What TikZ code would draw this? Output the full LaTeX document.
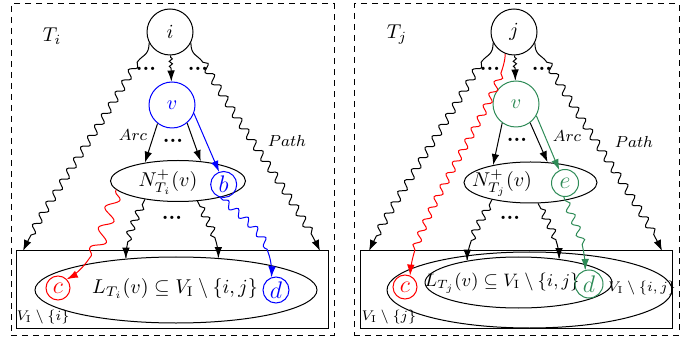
\documentclass[tikz,border=0pt]{standalone}
\usepackage{amsmath}
\usetikzlibrary{shapes.geometric,decorations.pathmorphing,arrows.meta}
\definecolor{sgreen}{RGB}{46,139,87}
\begin{document}
\begin{tikzpicture}[x=0.5pt,y=-0.5pt,line width=0.5pt,
  tip/.style={-{Latex[length=5.5pt,width=3.8pt]}},
  bigc/.style={circle,draw,minimum size=23pt,inner sep=0pt,font=\normalsize},
  smallc/.style={circle,draw,inner sep=0pt,font=\large},
  ell/.style={ellipse,draw,inner sep=0pt},
  lbl/.style={inner sep=0pt},
  dotsn/.style={inner sep=0pt,font=\fontsize{10.5}{12}\selectfont\bfseries},
  smalllbl/.style={inner sep=0pt,font=\footnotesize},
  tinylbl/.style={inner sep=0pt,font=\scriptsize},
  outerbox/.style={draw,dashed,dash pattern=on 3pt off 2.5pt,inner sep=0pt},
  innerbox/.style={draw,inner sep=0pt},
  wv/.style={decorate,decoration={snake,pre=curveto,post=curveto,#1}},
  smallwave/.style={wv={amplitude=0.8pt,segment length=2.5pt,pre length=1pt,post length=6pt}},
  bigwave/.style={wv={amplitude=1.8pt,segment length=6.5pt,pre length=12pt,post length=7pt}},
  redwaveR/.style={wv={amplitude=1.7pt,segment length=6.5pt,pre length=10pt,post length=13pt}},
  medwave/.style={wv={amplitude=1.7pt,segment length=5.5pt,pre length=3pt,post length=8pt}},
  redwave/.style={wv={amplitude=3.2pt,segment length=11pt,pre length=1pt,post length=15pt}},
  bluewave/.style={wv={amplitude=1.7pt,segment length=6.5pt,pre length=2pt,post length=11pt}},
]
\useasboundingbox (0,0) rectangle (694,341);

% ---------------- left panel ----------------
\node[outerbox,minimum width=161.5pt,minimum height=165.5pt] (outerL) at (172.5,169.5) {};
\node[innerbox,minimum width=156pt,minimum height=38.5pt] (boxL) at (172,289.5) {};
\node[ell,minimum width=141pt,minimum height=33pt] (L1) at (176,290) {};
\node[lbl] (L1lbl) at (175,288) {$L_{T_i}(v) \subseteq V_{\mathrm{I}} \setminus \{i,j\}$};
\node[tinylbl] (VIi) at (43,317) {$V_{\mathrm{I}} \setminus \{i\}$};

\node[lbl] (Ti) at (52,36) {$T_i$};
\node[bigc] (i) at (170,32) {$i$};
\node[bigc,blue] (v) at (172,105) {$v$};
\node[ell,minimum width=67.5pt,minimum height=20.5pt] (N1) at (178,181) {};
\node[lbl] (N1lbl) at (168,182) {$N^{+}_{T_i}(v)$};
\node[smallc,blue,minimum size=13pt] (b) at (223.7,184.5) {$b$};
\node[smallc,red,minimum size=12pt] (c1) at (58,288) {$c$};
\node[smallc,blue,minimum size=13pt] (d1) at (276,290) {$d$};

\node[dotsn] (dl1) at (146,69) {...};
\node[dotsn] (dl2) at (198,69) {...};
\node[dotsn] (dl3) at (173,141) {...};
\node[dotsn] (dl4) at (172,218) {...};
\node[smalllbl] (arcL) at (133,135) {$Arc$};
\node[smalllbl] (pathL) at (287,141) {$Path$};

\coordinate (bL1) at (136,64);
\coordinate (bL2) at (204,64);
\coordinate (tL1) at (23,251);
\coordinate (tL2) at (320,251);

\draw[tip,smallwave] (i) -- (v);
\draw[tip,bigwave] (i.207) .. controls +(0,14) and +(6,-10) .. (bL1)
   .. controls +(-35,62) and +(18,-40) .. (tL1);
\draw[tip,bigwave] (i.333) .. controls +(0,14) and +(-6,-10) .. (bL2)
   .. controls +(35,62) and +(-18,-40) .. (tL2);
\draw[tip] (v.232) -- (N1.151);
\draw[tip] (v.310) -- (N1.41);
\draw[tip,blue] (v.339) -- (b.110);
\draw[tip,medwave] (N1.209) .. controls +(-10,20) and +(0,-20) .. (L1.148);
\draw[tip,medwave] (N1.314) .. controls +(10,20) and +(0,-20) .. (L1.37);
\draw[tip,red,redwave] (N1.188) .. controls +(-10,40) and +(25,-12) .. (c1.45);
\draw[tip,blue,bluewave] (b.255) .. controls +(20,18) and +(3,-40) .. (d1.110);

% ---------------- right panel ----------------
\node[outerbox,minimum width=162.5pt,minimum height=165.5pt] (outerR) at (516.5,169.5) {};
\node[innerbox,minimum width=156pt,minimum height=38.5pt] (boxR) at (516,289.5) {};
\node[ell,minimum width=142.5pt,minimum height=38pt] (O2) at (529.5,290) {};
\node[ell,minimum width=93.5pt,minimum height=25.5pt] (L2) at (518.5,282.5) {};
\node[lbl,font=\small] (L2lbl) at (502,283) {$L_{T_j}(v) \subseteq V_{\mathrm{I}} \setminus \{i,j\}$};
\node[tinylbl] (VIij) at (642,288) {$V_{\mathrm{I}} \setminus \{i,j\}$};
\node[tinylbl] (VIj) at (389,317) {$V_{\mathrm{I}} \setminus \{j\}$};

\node[lbl] (Tj) at (397,35) {$T_j$};
\node[bigc] (j) at (514,32) {$j$};
\node[bigc,sgreen] (v2) at (516,104) {$v$};
\node[ell,minimum width=66.5pt,minimum height=20.5pt] (N2) at (530.5,182.5) {};
\node[lbl] (N2lbl) at (502,183) {$N^{+}_{T_j}(v)$};
\node[smallc,sgreen,minimum size=13.5pt] (e) at (565,183) {$e$};
\node[smallc,red,minimum size=12pt] (c2) at (405,287) {$c$};
\node[smallc,sgreen,minimum size=14pt] (d2) at (589,284) {$d$};

\node[dotsn] (dr1) at (490,69) {...};
\node[dotsn] (dr2) at (542,69) {...};
\node[dotsn] (dr3) at (517,140) {...};
\node[dotsn] (dr4) at (510,218) {...};
\node[smalllbl] (arcR) at (567,136) {$Arc$};
\node[smalllbl] (pathR) at (634,142) {$Path$};

\coordinate (bR1) at (480,64);
\coordinate (bR2) at (548,64);
\coordinate (tR1) at (369,251);
\coordinate (tR2) at (662,251);

\draw[tip,smallwave] (j) -- (v2);
\draw[tip,bigwave] (j.207) .. controls +(0,14) and +(6,-10) .. (bR1)
   .. controls +(-35,62) and +(18,-40) .. (tR1);
\draw[tip,bigwave] (j.333) .. controls +(0,14) and +(-6,-10) .. (bR2)
   .. controls +(35,62) and +(-18,-40) .. (tR2);
\draw[tip,red,redwaveR] (j.248) .. controls +(0,40) and +(2,-60) .. (c2.66);
\draw[tip] (v2.234) -- (N2.155);
\draw[tip] (v2.307) -- (N2.50);
\draw[tip,sgreen] (v2.330) -- (e.114);
\draw[tip,medwave] (N2.204) .. controls +(-10,20) and +(0,-20) .. (L2.157);
\draw[tip,medwave] (N2.290) .. controls +(10,20) and +(0,-20) .. (L2.30);
\draw[tip,sgreen,bluewave] (e.265) .. controls +(8,20) and +(0,-30) .. (d2.105);
\end{tikzpicture}
\end{document}
